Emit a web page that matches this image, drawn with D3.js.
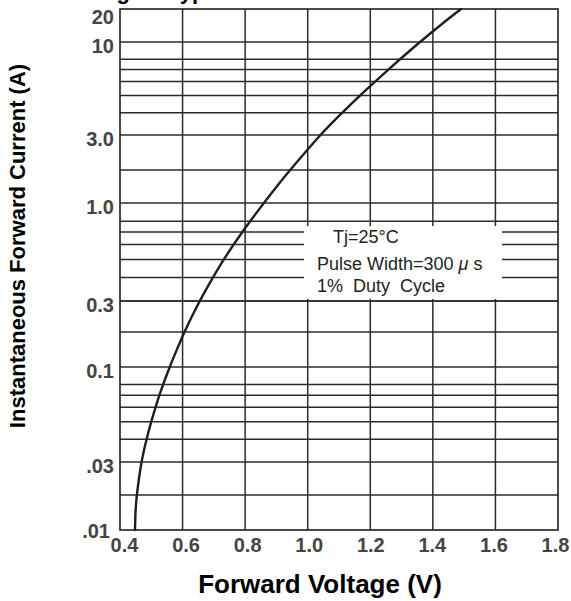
<!DOCTYPE html>
<html>
<head>
<meta charset="utf-8">
<script src="https://cdn.jsdelivr.net/npm/d3@7/dist/d3.min.js"></script>
<style>
  html, body { margin: 0; padding: 0; background: #fff; }
  svg { display: block; font-family: "Liberation Sans", Arial, sans-serif; }
</style>
</head>
<body>
<svg id="chart" width="571" height="601"></svg>
<script>
// ---- data ----
const xTickValues = [0.4, 0.6, 0.8, 1.0, 1.2, 1.4, 1.6, 1.8];
const xTickLabels = ["0.4", "0.6", "0.8", "1.0", "1.2", "1.4", "1.6", "1.8"];
const yTickValues = [20, 10, 3, 1, 0.3, 0.1, 0.03, 0.01];
const yTickLabels = ["20", "10", "3.0", "1.0", "0.3", "0.1", ".03", ".01"];
const gridCurrents = [10, 8, 7, 6, 5, 4, 3, 2, 1, 0.8, 0.7, 0.6, 0.5, 0.4, 0.3, 0.2,
                      0.1, 0.08, 0.07, 0.06, 0.05, 0.04, 0.03, 0.02];
// curve: forward current (A) vs forward voltage (V)
const currentA = [0.01, 0.015, 0.02, 0.03, 0.04, 0.05, 0.07, 0.1, 0.15, 0.2, 0.3, 0.4, 0.5,
                  0.7, 1.0, 1.5, 2, 3, 4, 5, 7, 10, 15, 20];
const voltageV = [0.448, 0.450, 0.454, 0.469, 0.485, 0.500, 0.526, 0.559, 0.586, 0.606, 0.655,
                  0.697, 0.732, 0.791, 0.860, 0.908, 0.944, 1.041, 1.110, 1.167, 1.258, 1.359,
                  1.434, 1.490];
const legendTitle = "Tj=25°C";
const legendPulse = ["Pulse Width=300 ", "μ", " s"];
const legendDuty = "1%  Duty  Cycle";
const xTitle = "Forward Voltage (V)";
const yTitle = "Instantaneous Forward Current (A)";
const chartTitle = "Fig.2 - Typical Forward Characteristics";

(function () {
const svg = d3.select("#chart");
const pLeft = 120, pRight = 558, pTop = 9, pBottom = 530;

const x = d3.scaleLinear().domain([0.4, 1.8]).range([pLeft, pRight]);
// tick labels in the print sit on a slightly narrower span than the grid
const xLabel = d3.scaleLinear().domain([0.4, 1.8]).range([124.5, 555.5]);
// the printed grid is a hand-drawn (piecewise) logarithmic scale
const y = d3.scaleLog()
  .domain([0.01, 0.02, 0.03, 0.1, 0.2, 0.3, 1, 2, 3, 10, 20])
  .range([pBottom, 495, 462, 367, 332, 301, 203, 170, 135, 42, pTop]);

const gridColor = "#2b2b2b";

// title (cut off at the top edge, as in the print)
svg.append("text")
  .attr("x", 97).attr("y", -1)
  .attr("font-size", 22).attr("font-weight", "bold").attr("fill", "#000")
  .text(chartTitle);

const g = svg.append("g");

g.selectAll("line.h").data(gridCurrents).enter().append("line")
  .attr("class", "h")
  .attr("x1", pLeft).attr("x2", pRight)
  .attr("y1", d => y(d)).attr("y2", d => y(d))
  .attr("stroke", gridColor).attr("stroke-width", 1.5);

g.selectAll("line.v").data(xTickValues.slice(1, -1)).enter().append("line")
  .attr("class", "v")
  .attr("x1", d => x(d)).attr("x2", d => x(d))
  .attr("y1", pTop).attr("y2", pBottom)
  .attr("stroke", gridColor).attr("stroke-width", 1.5);

// legend patch over the grid
g.append("rect")
  .attr("x", 304).attr("y", 226).attr("width", 198).attr("height", 73)
  .attr("fill", "#fff");

g.append("line")
  .attr("x1", pLeft).attr("x2", pRight)
  .attr("y1", y(0.3)).attr("y2", y(0.3))
  .attr("stroke", gridColor).attr("stroke-width", 1.5);

g.append("rect")
  .attr("x", pLeft).attr("y", pTop)
  .attr("width", pRight - pLeft).attr("height", pBottom - pTop)
  .attr("fill", "none").attr("stroke", gridColor).attr("stroke-width", 1.7);

// curve
const pts = currentA.map((c, i) => [voltageV[i], c]);
const line = d3.line()
  .x(d => x(d[0])).y(d => y(d[1]))
  .curve(d3.curveCatmullRom.alpha(0.5));
g.append("path")
  .attr("d", line(pts))
  .attr("fill", "none").attr("stroke", "#1e1e1e").attr("stroke-width", 2.4)
  .attr("stroke-linecap", "round");

// legend text
const legend = g.append("g").attr("font-size", 18).attr("fill", "#222");
legend.append("text").attr("x", 333).attr("y", 243).text(legendTitle);
const pulse = legend.append("text").attr("x", 317).attr("y", 270).style("white-space", "pre");
pulse.append("tspan").text(legendPulse[0]);
pulse.append("tspan").attr("font-style", "italic").text(legendPulse[1]);
pulse.append("tspan").text(legendPulse[2]);
legend.append("text").attr("x", 317).attr("y", 292)
  .style("white-space", "pre").text(legendDuty);

// x tick labels
svg.selectAll("text.xt").data(xTickValues).enter().append("text")
  .attr("class", "xt")
  .attr("x", d => xLabel(d)).attr("y", 552)
  .attr("text-anchor", "middle")
  .attr("font-size", 20).attr("font-weight", "bold").attr("fill", "#444")
  .text((d, i) => xTickLabels[i]);

// y tick labels
const nY = yTickValues.length;
svg.selectAll("text.yt").data(yTickValues).enter().append("text")
  .attr("class", "yt")
  .attr("x", (d, i) => i === nY - 1 ? 110 : 114)
  .attr("y", (d, i) => i === nY - 1 ? y(d) + 8 : Math.max(y(d) + 11, pTop + 15))
  .attr("text-anchor", "end")
  .attr("font-size", 20).attr("font-weight", "bold").attr("fill", "#444")
  .text((d, i) => yTickLabels[i]);

// axis titles
svg.append("text")
  .attr("x", 320).attr("y", 593)
  .attr("text-anchor", "middle")
  .attr("font-size", 26).attr("font-weight", "bold").attr("fill", "#000")
  .text(xTitle);

svg.append("text")
  .attr("transform", "translate(25,246) rotate(-90)")
  .attr("text-anchor", "middle")
  .attr("font-size", 22).attr("font-weight", "bold").attr("fill", "#000")
  .text(yTitle);
})();
</script>
</body>
</html>
